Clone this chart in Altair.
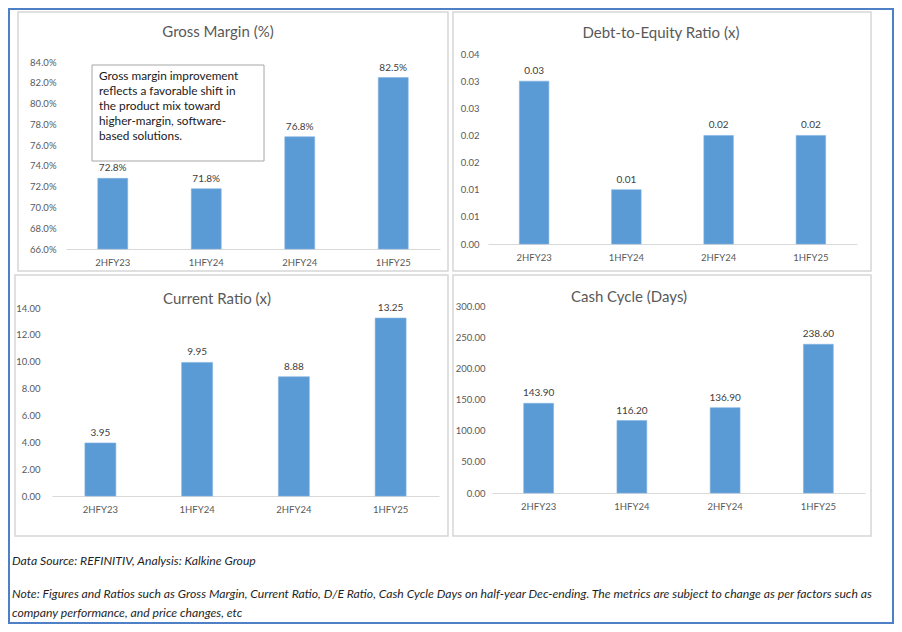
import altair as alt
import pandas as pd

# ---------------- data ----------------
periods = ["2HFY23", "1HFY24", "2HFY24", "1HFY25"]
gross_margin = [72.8, 71.8, 76.8, 82.5]
de_ratio = [0.03, 0.01, 0.02, 0.02]
current_ratio = [3.95, 9.95, 8.88, 13.25]
cash_cycle = [143.90, 116.20, 136.90, 238.60]

gm_ticks = [66, 68, 70, 72, 74, 76, 78, 80, 82, 84]
de_ticks = [0, 0.005, 0.01, 0.015, 0.02, 0.025, 0.03, 0.035]
cr_ticks = [0, 2, 4, 6, 8, 10, 12, 14]
cc_ticks = [0, 50, 100, 150, 200, 250, 300]

titles = ["Gross Margin (%)", "Debt-to-Equity Ratio (x)", "Current Ratio (x)", "Cash Cycle (Days)"]
note_box = ["Gross margin improvement", "reflects a favorable shift in",
            "the product mix toward", "higher-margin, software-", "based solutions."]
source_line = "Data Source: REFINITIV, Analysis: Kalkine Group"
note_lines = ["Note: Figures and Ratios such as Gross Margin, Current Ratio, D/E Ratio, Cash Cycle Days on half-year Dec-ending. The metrics are subject to change as per factors such as",
              "company performance, and price changes, etc"]

W, H = 886, 616
FONT = "Lato"
BAR = "#5B9BD5"
GRAY = "#595959"
ONE = alt.Data(values=[{}])


def panel(values, domain, ticks, xr, yr, ypad, axis_expr, label_expr, base):
    df = pd.DataFrame({"period": periods, "value": values})
    xscale = alt.Scale(range=xr, paddingInner=0.68, paddingOuter=0.34)
    yscale = alt.Scale(domain=domain, range=yr, zero=False, nice=False)
    x = alt.X("period:N", sort=periods, title=None, scale=xscale,
              axis=alt.Axis(orient="bottom", offset=yr[0] - H, labelAngle=0,
                            labelPadding=8, ticks=False, tickSize=0,
                            domainColor="#d9d9d9", domainWidth=1,
                            labelFont=FONT, labelFontSize=9.5, labelColor=GRAY,
                            grid=False))
    y = alt.Y("value:Q", title=None, scale=yscale,
              axis=alt.Axis(orient="left", offset=-xr[0], values=ticks,
                            labelExpr=axis_expr, domain=False, ticks=False,
                            tickSize=0, grid=False, labelPadding=ypad,
                            labelFont=FONT, labelFontSize=9.5, labelColor=GRAY))
    bars = alt.Chart(df).mark_bar(color=BAR, stroke="#7fb2e0", strokeWidth=0.6).encode(
        x=x, y=y, y2=alt.datum(base))
    text = alt.Chart(df).transform_calculate(lbl=label_expr).mark_text(
        dy=-7, baseline="alphabetic", fontSize=10, color="#404040", font=FONT
    ).encode(x=x, y=y, text="lbl:N")
    return alt.layer(bars, text)


def box(x0, y0, x1, y1, color, width):
    return alt.Chart(ONE).mark_rect(fillOpacity=0, stroke=color, strokeWidth=width).encode(
        x=alt.value(x0), x2=alt.value(x1), y=alt.value(y0), y2=alt.value(y1))


def label(txt, x, y, size, color, align="center", style="normal", baseline="middle", lh=None):
    kw = dict(fontSize=size, color=color, font=FONT, align=align, baseline=baseline,
              fontStyle=style)
    if lh is not None:
        kw["lineHeight"] = lh
    return alt.Chart(ONE).mark_text(**kw).encode(
        x=alt.value(x), y=alt.value(y), text=alt.value(txt))


frames = [
    box(1, 1, 885, 615, "#4f7fc4", 2),
    box(10, 4, 440, 263, "#d6d6d6", 1.5),
    box(445, 4, 863, 263, "#d6d6d6", 1.5),
    box(7, 267, 440, 528, "#d6d6d6", 1.5),
    box(445, 267, 863, 528, "#d6d6d6", 1.5),
]

p1 = panel(gross_margin, [66, 84], gm_ticks, [58, 432], [241, 54], 10,
           "format(datum.value, '.1f') + '%'", "format(datum.value, '.1f') + '%'", 66)
p2 = panel(de_ratio, [0, 0.035], de_ticks, [480, 849], [236, 46], 9,
           "format(datum.value + 1e-9, '.2f')", "format(datum.value, '.2f')", 0)
p3 = panel(current_ratio, [0, 14], cr_ticks, [44, 431], [488, 300], 12,
           "format(datum.value, '.2f')", "format(datum.value, '.2f')", 0)
p4 = panel(cash_cycle, [0, 300], cc_ticks, [484, 857], [485, 298], 7,
           "format(datum.value, '.2f')", "format(datum.value, '.2f')", 0)

title_layers = [
    label(titles[0], 210, 24, 15, GRAY),
    label(titles[1], 653, 25, 15, GRAY),
    label(titles[2], 209, 291, 15, GRAY),
    label(titles[3], 621, 289, 15, GRAY),
]

annot = [
    alt.Chart(ONE).mark_rect(fill="white", stroke="#a6a6a6", strokeWidth=1).encode(
        x=alt.value(84), x2=alt.value(256), y=alt.value(57), y2=alt.value(153)),
    label(note_box, 91, 68, 11.8, "#1a1a1a", align="left", lh=15),
]

foot = [
    label(source_line, 4, 553, 12.2, "#1f1f1f", align="left", style="italic"),
    label(note_lines, 4, 586, 12.2, "#1f1f1f", align="left", style="italic", lh=19),
]

chart = alt.layer(*frames, p1, p2, p3, p4, *annot, *title_layers, *foot).resolve_scale(
    x="independent", y="independent"
).properties(
    width=W, height=H, padding=0, autosize=alt.AutoSizeParams(type="none")
).configure_view(stroke=None)

chart.save("out.html", embed_options={"renderer": "svg", "actions": False})
